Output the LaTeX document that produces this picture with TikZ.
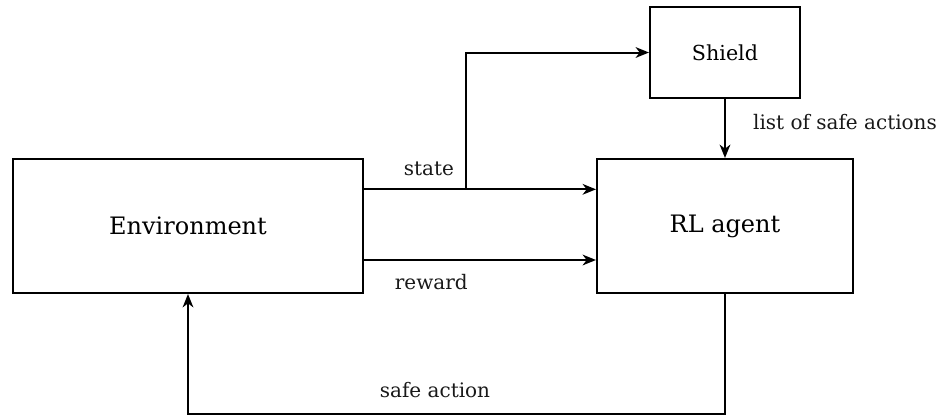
\documentclass[tikz,border=0pt]{standalone}
\usepackage{fontspec}
\setmainfont{DejaVu Serif}
\usepackage{tikz}
\usetikzlibrary{
    arrows.meta,
    positioning
}

\begin{document}
\begin{tikzpicture}[
    font=\fontsize{18}{22}\selectfont,
    box/.style={
        rectangle,
        draw=black,
        fill=white,
        line width=1.5pt,
        align=center,
        minimum height=100.5pt,
        minimum width=192pt
    },
    annot/.style={
        font=\fontsize{15}{18}\selectfont,
        text=black!90
    },
    arrow/.style={-{Stealth[length=10pt,width=8pt,inset=3pt]}, line width=1.5pt, black}
]

% ===== Boxes =====
\node[box, minimum width=262.5pt] (env) {Environment};
\node[box, right=174pt of env] (agent) {RL agent};
\node[box, above=44.25pt of agent, minimum width=112.5pt, minimum height=68.25pt,
      font=\fontsize{15.5}{18}\selectfont] (shield) {Shield};

% frame of the page
\path[use as bounding box] ([xshift=-9pt, yshift=118.5pt]env.north west) rectangle ++(705pt,-311.25pt);

% ===== Connectors =====
\coordinate (st) at ([yshift=27.5pt]env.east);
\coordinate (split) at ([xshift=76.5pt]st);
\coordinate (rw) at ([yshift=-25.5pt]env.east);
\coordinate (back) at ([yshift=-90pt]agent.south);

\draw[arrow] (st) -- node[annot, above=6pt, pos=0.28]{state} (st -| agent.west);
\draw[arrow] (split) |- (shield.west);
\draw[arrow] (rw) -- node[annot, below=7pt, pos=0.29]{reward} (rw -| agent.west);
\draw[arrow] (shield) -- node[annot, anchor=west, xshift=17pt, yshift=5pt]{list of safe actions} (agent);
\draw[arrow] (agent.south) -- (back) -| node[annot, above=8pt, pos=0.27]{safe action} (env.south);

\end{tikzpicture}
\end{document}
